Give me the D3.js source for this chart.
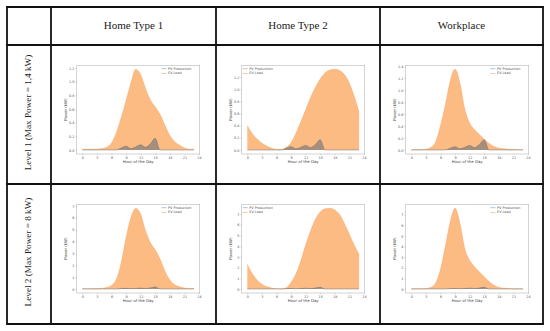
<!DOCTYPE html>
<html><head><meta charset="utf-8">
<script src="https://cdn.jsdelivr.net/npm/d3@7"></script>
<style>html,body{margin:0;padding:0;background:#fff}svg{display:block}</style>
</head><body>
<svg id="chart" width="550" height="331"></svg>
<script>
const columnTitles = ["Home Type 1", "Home Type 2", "Workplace"];
const rowTitles = ["Level 1 (Max Power = 1,4 kW)", "Level 2 (Max Power = 8 kW)"];
const hours = [0,1,2,3,4,5,6,7,8,9,10,11,12,13,14,15,16,17,18,19,20,21,22,23];
const pvProduction = [0,0,0,0,0,0,0,0,0.03,0.055,0.02,0.045,0.075,0.04,0.09,0.17,0,0,0,0,0,0,0,0];
const evHome1L1 = [0.01,0.01,0.01,0.01,0.02,0.04,0.1,0.25,0.47,0.72,0.98,1.18,1.1,0.9,0.73,0.63,0.52,0.36,0.21,0.12,0.07,0.03,0.01,0.01];
const evHome2L1 = [0.4,0.27,0.18,0.11,0.065,0.03,0.01,0.01,0.04,0.12,0.27,0.46,0.66,0.86,1.03,1.17,1.27,1.32,1.33,1.31,1.24,1.1,0.88,0.62];
const evWorkL1 = [0.005,0.005,0.005,0.01,0.04,0.13,0.4,0.75,1.15,1.35,1.12,0.68,0.45,0.34,0.26,0.18,0.11,0.06,0.03,0.02,0.01,0.01,0.005,0.005];
const evHome1L2 = [0.02,0.02,0.02,0.03,0.05,0.12,0.3,0.8,2.2,4.3,6.0,6.8,6.3,4.9,3.9,3.3,2.5,1.5,0.75,0.35,0.18,0.08,0.04,0.03];
const evHome2L2 = [2.3,1.45,0.85,0.45,0.22,0.08,0.03,0.02,0.1,0.6,1.4,2.6,4.1,5.4,6.5,7.2,7.5,7.55,7.4,6.95,6.1,5.1,4.1,3.2];
const evWorkL2 = [0.02,0.02,0.02,0.04,0.15,0.55,1.8,4.0,6.3,7.6,6.2,3.8,2.7,2.1,1.6,1.15,0.7,0.35,0.15,0.08,0.04,0.02,0.02,0.01];
const xTicks = [0,3,6,9,12,15,18,21,24];
const yTicksLevel1 = [0,0.2,0.4,0.6,0.8,1.0,1.2,1.4];
const yTicksLevel2 = [0,1,2,3,4,5,6,7,8];
const legendLabels = ["PV Production", "EV Load"];
const xLabel = "Hour of the Day";
const yLabel = "Power (kW)";

const panels = [
  {row:0, col:0, ev:evHome1L1, ticks:yTicksLevel1, fmt:d3.format(".1f"), legend:"right"},
  {row:0, col:1, ev:evHome2L1, ticks:yTicksLevel1, fmt:d3.format(".1f"), legend:"left"},
  {row:0, col:2, ev:evWorkL1, ticks:yTicksLevel1, fmt:d3.format(".1f"), legend:"right"},
  {row:1, col:0, ev:evHome1L2, ticks:yTicksLevel2, fmt:d3.format("d"), legend:"right"},
  {row:1, col:1, ev:evHome2L2, ticks:yTicksLevel2, fmt:d3.format("d"), legend:"left"},
  {row:1, col:2, ev:evWorkL2, ticks:yTicksLevel2, fmt:d3.format("d"), legend:"right"}
];

const svg = d3.select("#chart");
const colX = [7, 51, 216, 380, 543];
const rowY = [7, 45, 184, 324];

columnTitles.forEach((t, i) => {
  svg.append("text").attr("x", (colX[i+1] + colX[i+2]) / 2).attr("y", (rowY[0] + rowY[1]) / 2 + 0.5)
    .attr("text-anchor", "middle").attr("dominant-baseline", "middle")
    .attr("font-family", "Liberation Serif, serif").attr("font-size", 11).attr("fill", "#222").text(t);
});
rowTitles.forEach((t, i) => {
  const cx = (colX[0] + colX[1]) / 2, cy = (rowY[i+1] + rowY[i+2]) / 2 - 2;
  svg.append("text").attr("transform", `translate(${cx},${cy}) rotate(-90)`)
    .attr("text-anchor", "middle").attr("dominant-baseline", "middle")
    .attr("font-family", "Liberation Serif, serif").attr("font-size", 9.2).attr("fill", "#222").text(t);
});

const fontSmall = "DejaVu Sans, sans-serif";
panels.forEach(p => {
  const cellL = colX[p.col + 1], cellT = rowY[p.row + 1];
  const L = cellL + 25.7, R = L + 123, T = cellT + 20.3, B = T + 88.7;
  const maxV = d3.max(p.ev);
  const x = d3.scaleLinear().domain([-1.15, 24.15]).range([L, R]);
  const y = d3.scaleLinear().domain([-0.05 * maxV, 1.05 * maxV]).range([B, T]);
  const g = svg.append("g");
  const data = hours.map((h, i) => ({h, ev: p.ev[i], pv: pvProduction[i]}));
  const area = d3.area().x(d => x(d.h)).y0(y(0)).curve(d3.curveMonotoneX);
  const line = d3.line().x(d => x(d.h)).curve(d3.curveMonotoneX);
  g.append("path").attr("d", area.y1(d => y(d.ev))(data)).attr("fill", "#fdbb84");
  g.append("path").attr("d", area.y1(d => y(d.pv))(data)).attr("fill", "#a58f7c");
  g.append("path").attr("d", line.y(d => y(d.ev))(data)).attr("fill", "none").attr("stroke", "#f7a460").attr("stroke-width", 0.5);
  g.append("path").attr("d", line.y(d => y(d.pv))(data)).attr("fill", "none").attr("stroke", "#6e7176").attr("stroke-width", 0.5);
  g.append("rect").attr("x", L).attr("y", T).attr("width", R - L).attr("height", B - T)
    .attr("fill", "none").attr("stroke", "#b8b8b8").attr("stroke-width", 0.6);
  const xAxis = d3.axisBottom(x).tickValues(xTicks).tickSize(1.2).tickPadding(1.2).tickFormat(d3.format("d"));
  const yTicks = p.ticks.filter(v => v >= y.domain()[0] && v <= y.domain()[1]);
  const yAxis = d3.axisLeft(y).tickValues(yTicks).tickSize(1.2).tickPadding(1.2).tickFormat(p.fmt);
  const gx = g.append("g").attr("transform", `translate(0,${B})`).call(xAxis);
  const gy = g.append("g").attr("transform", `translate(${L},0)`).call(yAxis);
  [gx, gy].forEach(a => {
    a.select(".domain").remove();
    a.selectAll(".tick line").attr("stroke", "#999").attr("stroke-width", 0.4);
    a.selectAll(".tick text").attr("font-family", fontSmall).attr("font-size", 3.4).attr("fill", "#555");
  });
  g.append("text").attr("x", (L + R) / 2).attr("y", B + 9).attr("text-anchor", "middle")
    .attr("font-family", fontSmall).attr("font-size", 3.9).attr("fill", "#444").text(xLabel);
  g.append("text").attr("transform", `translate(${L - 10},${(T + B) / 2}) rotate(-90)`).attr("text-anchor", "middle")
    .attr("font-family", fontSmall).attr("font-size", 3.9).attr("fill", "#444").text(yLabel);
  const lx = p.legend === "right" ? R - 38.3 : L + 1;
  const legColors = ["#6fa0c8", "#f7a460"];
  legendLabels.forEach((t, i) => {
    const ly = T + 3.4 + i * 4.8;
    g.append("line").attr("x1", lx).attr("x2", lx + 5).attr("y1", ly).attr("y2", ly)
      .attr("stroke", legColors[i]).attr("stroke-width", 0.6);
    g.append("text").attr("x", lx + 6.6).attr("y", ly).attr("dominant-baseline", "middle")
      .attr("font-family", fontSmall).attr("font-size", 3.4).attr("fill", "#555").text(t);
  });
});

const gridColor = "#111";
colX.forEach(cx => {
  svg.append("line").attr("x1", cx).attr("x2", cx).attr("y1", rowY[0]).attr("y2", rowY[3])
    .attr("stroke", gridColor).attr("stroke-width", 1.8);
});
rowY.forEach(ry => {
  svg.append("line").attr("x1", colX[0] - 0.9).attr("x2", colX[4] + 0.9).attr("y1", ry).attr("y2", ry)
    .attr("stroke", gridColor).attr("stroke-width", 1.8);
});
</script>
</body></html>
